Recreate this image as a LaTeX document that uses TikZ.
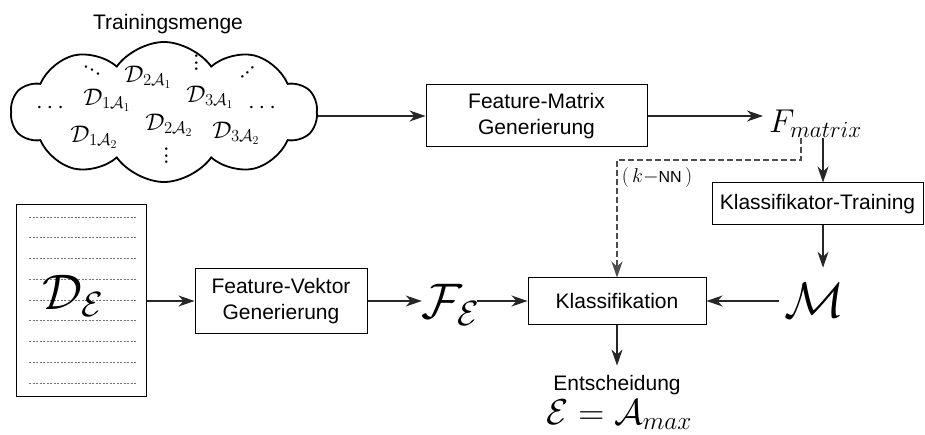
\RequirePackage{fix-cm}
\documentclass[tikz,border=0pt]{standalone}
\usepackage{graphicx}
\usepackage{fontspec}
\setmainfont{Liberation Sans}
\usetikzlibrary{shapes.symbols,arrows.meta}
\tikzset{
  conn/.style={-{Stealth[length=16pt,width=11pt,inset=5pt]}, line width=1.2pt, draw=black!85},
  dconn/.style={conn, dash pattern=on 6pt off 3pt, draw=black!70},
  box/.style={draw, line width=1pt, align=center, font=\fontsize{21}{26}\selectfont, inner sep=0pt},
  lbl/.style={font=\fontsize{21}{26}\selectfont, inner sep=0pt},
  bigm/.style={inner sep=0pt, font=\fontsize{50}{60}\selectfont},
  cmath/.style={inner sep=0pt, font=\fontsize{24}{28}\selectfont},
  dotsm/.style={inner sep=0pt, font=\fontsize{24}{28}\selectfont},
  docline/.style={draw=black!55, line width=0.8pt, dash pattern=on 2pt off 1.5pt},
}
\begin{document}
\begin{tikzpicture}[x=1pt,y=-1pt]
\useasboundingbox (0,0) rectangle (925,435);
% training set cloud
\node[lbl, anchor=base] (tm) at (168,30) {Trainingsmenge};
\node[cloud, draw, line width=1.8pt, cloud puffs=10, cloud puff arc=110, aspect=2.3,
      minimum width=306pt, minimum height=140pt, inner sep=0pt] (cl) at (164,112) {};
\node[dotsm, rotate=-31] (c1) at (92,71) {$\cdotp\!\cdotp\!\cdotp$};
\node[cmath] (c2) at (148,77) {$\mathcal{D}_{2\mathcal{A}_1}$};
\node[dotsm, rotate=90] (c3) at (197,63) {$\cdotp\!\cdotp\!\cdotp$};
\node[cmath] (c4) at (210,97) {$\mathcal{D}_{3\mathcal{A}_1}$};
\node[dotsm, rotate=43] (c5) at (248,73) {$\cdotp\!\cdotp\!\cdotp$};
\node[cmath] (c6) at (107,100) {$\mathcal{D}_{1\mathcal{A}_1}$};
\node[cmath] (c7) at (50,108) {$\cdots$};
\node[cmath] (c8) at (262,108) {$\cdots$};
\node[cmath] (c9) at (169,125) {$\mathcal{D}_{2\mathcal{A}_2}$};
\node[cmath] (c10) at (94,137) {$\mathcal{D}_{1\mathcal{A}_2}$};
\node[cmath] (c11) at (236,133) {$\mathcal{D}_{3\mathcal{A}_2}$};
\node[dotsm, rotate=90] (c12) at (167,156) {$\cdotp\!\cdotp\!\cdotp$};
% top row
\node[box, minimum width=221pt, minimum height=62pt] (fm) at (536.5,116) {Feature-Matrix\\Generierung};
\node[inner sep=0pt, anchor=base west, font=\fontsize{33}{38}\selectfont] (Fmat) at (769,133) {$F_{matrix}$};
\node[box, minimum width=211pt, minimum height=42pt] (kt) at (817.5,204) {Klassifikator-Training};
\node[bigm] (M) at (815,300) {$\mathcal{M}$};
% document
\node[draw, line width=1pt, minimum width=130pt, minimum height=191pt, inner sep=0pt] (doc) at (81,300.5) {};
\foreach \yy in {217,237.75,258.5,279.25,300,320.75,341.5,362.25,383}
  \draw[docline] (29,\yy) -- (136,\yy);
\node[bigm] (De) at (73,296) {$\mathcal{D}_{\mathcal{E}}$};
\node[box, minimum width=172pt, minimum height=64pt] (fv) at (281,301) {Feature-Vektor\\Generierung};
\node[bigm] (FE) at (451,305) {$\mathcal{F}_{\mathcal{E}}$};
\node[box, minimum width=178pt, minimum height=46pt] (kl) at (617,301) {Klassifikation};
\node[lbl, anchor=base] (ent) at (617,390) {Entscheidung};
\node[inner sep=0pt, anchor=base, font=\fontsize{36}{42}\selectfont] (dec) at (619,424) {$\mathcal{E}=\mathcal{A}_{max}$};
\node[inner sep=0pt, font=\fontsize{20}{24}\selectfont] (knn) at (657,178) {$\bigl(\,k{-}\mbox{\fontsize{16}{18}\selectfont NN}\,\bigr)$};
% connectors
\coordinate (dtop) at (801,138);
\coordinate (dk) at (801,160);
\coordinate (atop) at (823,138);
\draw[conn] (fm.west -| cl.east) -- (fm.west);
\draw[conn, shorten >=6pt] (fm.east) -- (fm.east -| Fmat.west);
\draw[dconn] (dtop) -- (dk) -| (kl.north);
\draw[conn] (atop) -- (kt.north -| atop);
\draw[conn, shorten >=15pt] (kt.south -| atop) -- (M.north -| atop);
\draw[conn, shorten <=6pt] (M.west |- kl.east) -- (kl.east);
\draw[conn] (doc.east |- fv.west) -- (fv.west);
\draw[conn] (fv.east) -- (fv.east -| FE.west);
\draw[conn, shorten <=-3pt] (FE.east |- kl.west) -- (kl.west);
\draw[conn] (kl.south) -- ([yshift=9pt]ent.north);
\end{tikzpicture}
\end{document}
